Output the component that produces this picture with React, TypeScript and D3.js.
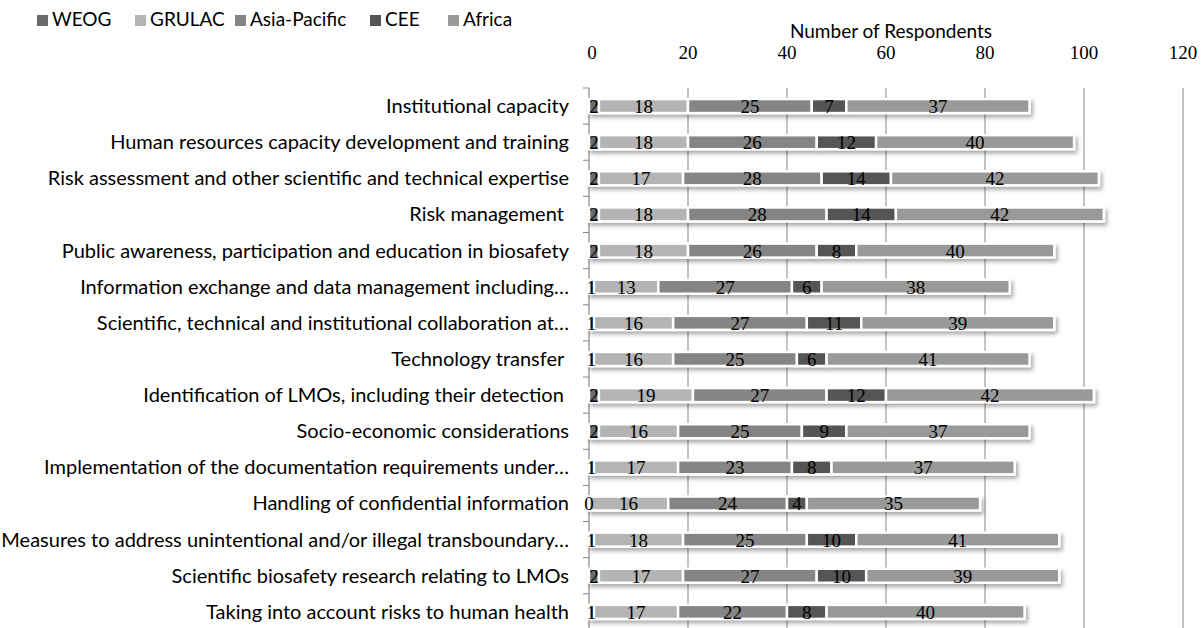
import React from "react";
import * as d3 from "d3";

const categories = [
  "Institutional capacity",
  "Human resources capacity development and training",
  "Risk assessment and other scientific and technical expertise",
  "Risk management ",
  "Public awareness, participation and education in biosafety",
  "Information exchange and data management including…",
  "Scientific, technical and institutional collaboration at…",
  "Technology transfer ",
  "Identification of LMOs, including their detection ",
  "Socio-economic considerations",
  "Implementation of the documentation requirements under…",
  "Handling of confidential information",
  "Measures to address unintentional and/or illegal transboundary…",
  "Scientific biosafety research relating to LMOs",
  "Taking into account risks to human health",
];

const seriesNames = ["WEOG", "GRULAC", "Asia-Pacific", "CEE", "Africa"];
const weog = [2, 2, 2, 2, 2, 1, 1, 1, 2, 2, 1, 0, 1, 2, 1];
const grulac = [18, 18, 17, 18, 18, 13, 16, 16, 19, 16, 17, 16, 18, 17, 17];
const asiaPacific = [25, 26, 28, 28, 26, 27, 27, 25, 27, 25, 23, 24, 25, 27, 22];
const cee = [7, 12, 14, 14, 8, 6, 11, 6, 12, 9, 8, 4, 10, 10, 8];
const africa = [37, 40, 42, 42, 40, 38, 39, 41, 42, 37, 37, 35, 41, 39, 40];
const xTicks = [0, 20, 40, 60, 80, 100, 120];
const axisTitle = "Number of Respondents";

const seriesValues = [weog, grulac, asiaPacific, cee, africa];
const colors = ["#6a6a6a", "#b4b4b4", "#858585", "#555555", "#999999"];

const SANS = "Lato, 'Open Sans', sans-serif";
const SERIF = "'Liberation Serif', 'DejaVu Serif', serif";

export default function App() {
  const W = 1204;
  const H = 628;
  const x = d3.scaleLinear().domain([0, 120]).range([589, 1183]);
  const y = d3
    .scaleBand<string>()
    .domain(categories)
    .range([88, 88 + 36.13 * categories.length])
    .paddingInner(0)
    .paddingOuter(0);
  const step = y.step();
  const barH = 14;

  const rows = categories.map((c, i) => {
    const vals = seriesValues.map((s) => s[i]);
    const cum = d3.cumsum(vals);
    return vals.map((v, k) => ({
      v,
      k,
      x0: k === 0 ? 0 : cum[k - 1],
      x1: cum[k],
    }));
  });

  const legendX = [52, 150, 250, 385, 463];

  return (
    <svg
      width={W}
      height={H}
      style={{ position: "absolute", left: 0, top: 0, background: "#fff" }}
    >
      <defs>
        <filter id="shadow" x="-5%" y="-50%" width="110%" height="250%">
          <feDropShadow dx="2" dy="3" stdDeviation="2" floodColor="#000" floodOpacity="0.35" />
        </filter>
      </defs>
      <rect x={0} y={0} width={W} height={H} fill="#fff" />

      {/* legend */}
      {seriesNames.map((n, k) => (
        <g key={n}>
          <rect x={legendX[k] - 15} y={15} width={11} height={11} fill={colors[k]} />
          <text x={legendX[k]} y={26} fontFamily={SANS} fontSize={19} fill="#000">
            {n}
          </text>
        </g>
      ))}

      {/* axis title */}
      <text x={891} y={38} textAnchor="middle" fontFamily={SANS} fontSize={19} fill="#000">
        {axisTitle}
      </text>

      {/* tick labels */}
      {xTicks.map((t) => (
        <text
          key={t}
          x={x(t) + (t === 0 ? 3 : 0)}
          y={59}
          textAnchor="middle"
          fontFamily={SERIF}
          fontSize={19}
          fill="#000"
        >
          {t}
        </text>
      ))}

      {/* gridlines */}
      {xTicks.slice(1).map((t) => (
        <line key={t} x1={x(t)} x2={x(t)} y1={88} y2={H} stroke="#878787" strokeWidth={1} />
      ))}

      {/* category axis */}
      <line x1={x(0)} x2={x(0)} y1={88} y2={H} stroke="#878787" strokeWidth={1.2} />
      {d3.range(categories.length + 1).map((i) => (
        <line
          key={i}
          x1={x(0) - 6}
          x2={x(0)}
          y1={88 + i * step}
          y2={88 + i * step}
          stroke="#878787"
          strokeWidth={1}
        />
      ))}

      {/* category labels */}
      {categories.map((c) => (
        <text
          key={c}
          x={569}
          y={(y(c) as number) + step / 2 + 7}
          textAnchor="end"
          fontFamily={SANS}
          fontSize={20}
          fill="#000"
          style={{ whiteSpace: "pre" }}
        >
          {c}
        </text>
      ))}

      {/* bars */}
      {categories.map((c, i) => {
        const cy = (y(c) as number) + step / 2;
        return (
          <g key={c}>
            <g filter="url(#shadow)">
              {rows[i].map((s) => (
                <rect
                  key={s.k}
                  x={x(s.x0)}
                  y={cy - barH / 2}
                  width={x(s.x1) - x(s.x0)}
                  height={barH}
                  fill={colors[s.k]}
                  stroke="#fff"
                  strokeWidth={2.5}
                />
              ))}
            </g>
            {rows[i].map((s) => (
              <text
                key={s.k}
                x={(x(s.x0) + x(s.x1)) / 2}
                y={cy + 7}
                textAnchor="middle"
                fontFamily={SERIF}
                fontSize={19}
                fill="#000"
              >
                {s.v}
              </text>
            ))}
          </g>
        );
      })}
    </svg>
  );
}
